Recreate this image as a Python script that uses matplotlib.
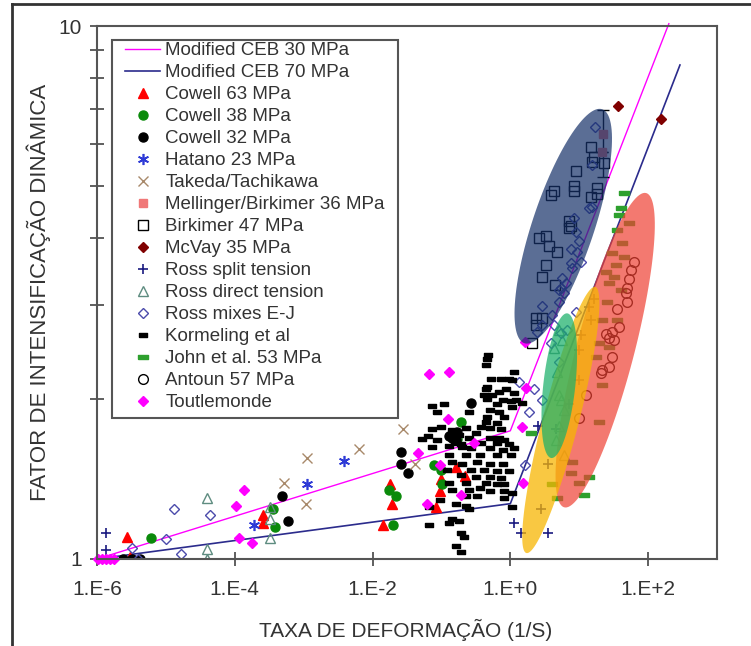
import matplotlib
matplotlib.use("Agg")
import matplotlib.pyplot as plt
import numpy as np
from matplotlib.lines import Line2D
from matplotlib.patches import Rectangle
from matplotlib.ticker import NullLocator, FixedLocator, NullFormatter

plt.rcParams['font.family'] = ['Liberation Sans', 'DejaVu Sans']

# --- data (strain rate 1/s, dynamic increase factor) ---
ceb30_rate = [1e-6, 1.0, 200]
ceb30_dif = [1.0, 1.74, 10.1]
ceb70_rate = [1e-6, 1.0, 290]
ceb70_dif = [1.0, 1.27, 8.45]

cowell63_rate = [2.7e-6, 3.0e-6, 2.55e-4, 2.55e-4, 1.4e-2, 1.82e-2, 1.9e-2, 0.16, 0.1, 0.22, 0.094, 0.082]
cowell63_dif = [1.10, 1.01, 1.21, 1.17, 1.16, 1.38, 1.27, 1.49, 1.41, 1.43, 1.34, 1.25]

cowell38_rate = [6.1e-6, 3.8e-4, 3.55e-4, 1.76e-2, 2.2e-2, 1.95e-2, 0.195, 7.7e-2, 0.10, 0.103, 0.17]
cowell38_dif = [1.095, 1.15, 1.24, 1.35, 1.31, 1.16, 1.81, 1.50, 1.47, 1.38, 1.68]

cowell32_rate = [2.4e-6, 3.2e-6, 4.2e-6, 4.8e-4, 5.9e-4, 2.55e-2, 2.55e-2, 3.3e-2, 0.27, 0.144, 0.17, 0.16, 0.13]
cowell32_dif = [1.0, 1.0, 1.0, 1.31, 1.18, 1.59, 1.51, 1.45, 1.96, 1.69, 1.73, 1.67, 1.70]

hatano_rate = [1.9e-4, 1.1e-3, 3.9e-3]
hatano_dif = [1.16, 1.38, 1.53]

takeda_rate = [5.1e-4, 1.1e-3, 1.07e-3, 6.3e-3, 2.8e-2, 4.1e-2]
takeda_dif = [1.39, 1.55, 1.27, 1.61, 1.75, 1.51]

mellinger_rate = [22.3, 21.5]
mellinger_dif = [6.27, 5.80]
mellinger_err_low = [1.07, 0.0]
mellinger_err_high = [0.68, 0.0]

birkimer_rate = [15.0, 16.5, 15.4, 23.0, 9.05, 8.47, 8.47, 4.34, 3.93, 18.2, 14.9, 18.2, 7.16,
                 7.66, 7.16, 2.63, 3.33, 3.67, 4.8, 3.33, 2.91, 4.5, 2.38, 2.91, 2.38, 2.08]
birkimer_dif = [5.93, 5.68, 5.56, 5.53, 5.34, 5.02, 4.90, 4.90, 4.81, 4.97, 4.78, 4.83, 4.30,
                4.22, 4.17, 4.0, 4.04, 3.86, 3.77, 3.56, 3.38, 3.26, 2.83, 2.83, 2.75, 2.54]

mcvay_rate = [36.7, 154]
mcvay_dif = [7.08, 6.69]

ross_split_rate = [1.35e-6, 1.35e-6, 1.14, 1.44, 3.56, 2.5, 2.8, 3.56, 10, 14, 14.9, 16.5, 10.7, 10, 4.6, 7.2]
ross_split_dif = [1.12, 1.04, 1.17, 1.12, 1.12, 1.78, 1.24, 1.51, 2.17, 2.97, 2.81, 3.08, 2.63, 2.47, 1.75, 1.95]

ross_direct_rate = [3.9e-5, 3.9e-5, 3.9e-5, 3.2e-4, 3.2e-4, 3.2e-4,
                    5.1, 5.7, 4.3, 4.8, 5.5, 6.1, 5.1, 4.6, 6.1, 5.1]
ross_direct_dif = [1.30, 1.044, 1.0, 1.25, 1.19, 1.095,
                   2.69, 2.58, 2.49, 2.24, 1.99, 1.90, 1.78, 1.67, 1.57, 2.03]

ross_mix_rate = [3.2e-6, 3.9e-6, 1.0e-5, 1.3e-5, 1.65e-5, 4.3e-5, 1.35, 2.23, 2.9, 1.88, 1.65,
                 17.1, 15.4, 15.4, 8.47, 9.05, 10, 7.66, 9.36, 10.7, 7.66, 7.92, 5.67, 6.48, 5.49,
                 6.06, 5.13, 2.91, 4.06, 9.05, 2.91, 2.46, 4.34, 3.93, 6.7, 5.49, 14, 5.13, 5.13]
ross_mix_dif = [1.05, 1.0, 1.09, 1.24, 1.02, 1.21, 2.15, 2.08, 1.99, 1.89, 1.50,
                6.47, 5.49, 4.58, 4.36, 4.11, 3.95, 3.81, 3.77, 3.61, 3.59, 3.51, 3.36, 3.29, 3.22,
                3.16, 3.03, 2.98, 2.87, 2.91, 2.75, 2.67, 2.75, 2.54, 2.69, 2.65, 4.56, 3.19, 2.34]

kormeling_rate = [0.48, 0.46, 0.45, 0.74, 0.97, 0.53, 0.46, 0.45, 0.69, 0.87, 0.55, 0.42, 0.46, 0.77,
                  1.03, 0.63, 0.074, 0.11, 0.085, 0.255, 0.50, 0.69, 0.46, 0.82, 0.45, 0.63, 0.10,
                  0.074, 0.38, 0.50, 0.23, 0.74, 0.063, 0.053, 0.085, 0.255, 0.32, 0.69, 0.82, 0.50,
                  0.38, 0.63, 0.97, 0.074, 0.13, 0.20, 0.27, 0.50, 0.77, 0.13, 0.23, 0.36, 0.65, 1.03,
                  0.144, 0.20, 0.33, 0.50, 0.77, 0.12, 0.27, 0.42, 0.63, 0.97, 0.195, 0.32, 0.50, 0.74,
                  0.13, 0.23, 0.45, 0.63, 0.82, 0.144, 0.255, 0.36, 0.50, 0.82, 0.23, 0.33, 0.82,
                  0.094, 0.165, 0.23, 0.067, 0.255, 0.14, 0.18, 0.13, 0.067, 0.195, 0.215, 0.165,
                  0.19, 1.14, 1.07, 1.14, 1.22, 1.07, 1.49, 1.14, 1.07, 1.07, 0.14, 0.18, 0.155, 0.195]
kormeling_dif = [2.41, 2.37, 2.31, 2.18, 2.18, 2.18, 2.10, 2.08, 2.06, 2.08, 2.03, 2.03, 2.0, 1.99,
                 1.98, 1.95, 1.94, 1.95, 1.89, 1.89, 1.90, 1.89, 1.85, 1.85, 1.81, 1.80, 1.77,
                 1.75, 1.77, 1.76, 1.76, 1.75, 1.70, 1.68, 1.67, 1.69, 1.72, 1.69, 1.67, 1.69,
                 1.65, 1.65, 1.64, 1.62, 1.63, 1.62, 1.615, 1.615, 1.60, 1.57, 1.57, 1.57, 1.57, 1.57,
                 1.52, 1.51, 1.52, 1.51, 1.51, 1.47, 1.47, 1.47, 1.46, 1.46, 1.44, 1.425, 1.425, 1.42,
                 1.39, 1.39, 1.39, 1.38, 1.38, 1.35, 1.35, 1.36, 1.34, 1.34, 1.31, 1.31, 1.30,
                 1.29, 1.27, 1.26, 1.25, 1.24, 1.19, 1.18, 1.17, 1.16, 1.12, 1.10, 1.06,
                 1.03, 2.24, 2.17, 2.05, 1.99, 1.93, 1.96, 1.615, 1.33, 1.25, 1.745, 1.71, 1.65, 1.64]

john_rate = [44.9, 40.6, 38.0, 35.6, 53.1, 42.0, 30.1, 44.9, 34.4, 24.6, 32.1, 27.2, 40.6, 25.5,
             21.5, 35.6, 19.5, 27.2, 17.6, 21.5, 19.5, 7.9, 14.0, 10, 4.8, 11.8, 2.0, 4.06, 7.66]
john_dif = [4.86, 4.55, 4.42, 4.14, 4.27, 3.92, 3.75, 3.68, 3.56, 3.45, 3.38, 3.30, 3.19, 3.03,
            2.81, 2.81, 2.54, 2.50, 2.39, 2.12, 1.81, 1.52, 1.425, 1.39, 1.30, 1.32, 1.72, 1.38, 1.45]

antoun_rate = [62.7, 56.7, 53.1, 49.7, 48.0, 49.7, 35.6, 38.0, 30.1, 24.6, 32.1, 27.2, 30.1, 27.2,
               21.5, 20.8, 12.6, 10]
antoun_dif = [3.61, 3.48, 3.35, 3.23, 3.15, 3.03, 2.94, 2.73, 2.67, 2.645, 2.58, 2.60, 2.39, 2.29,
              2.26, 2.23, 2.03, 1.84]

toutlemonde_rate = [1.03e-6, 1.18e-6, 1.35e-6, 1.54e-6, 1.76e-6, 1.03e-4, 1.35e-4, 1.14e-4, 1.76e-4,
                    6.5e-2, 0.13, 0.126, 4.5e-2, 0.094, 0.30, 0.19, 6.1e-2, 1.71, 1.49, 1.54, 1.65]
toutlemonde_dif = [1.0, 1.0, 1.0, 1.0, 1.0, 1.26, 1.35, 1.095, 1.07,
                   2.22, 2.24, 1.83, 1.58, 1.50, 1.65, 1.32, 1.27, 2.09, 1.77, 1.39, 2.55]

x_ticks = [1e-6, 1e-4, 1e-2, 1, 1e2]
x_tick_labels = ['1.E-6', '1.E-4', '1.E-2', '1.E+0', '1.E+2']

dash = [(-1, -0.45), (1, -0.45), (1, 0.45), (-1, 0.45), (-1, -0.45)]

fig = plt.figure(figsize=(7.51, 6.46), dpi=100)
ax = fig.add_axes([97 / 751, 1 - 559 / 646, 620 / 751, 533 / 646])
ax.set_xscale('log')
ax.set_yscale('log')
ax.set_xlim(1e-6, 1e3)
ax.set_ylim(1, 10)

handles = []
# CEB curves
handles += ax.plot(ceb30_rate, ceb30_dif, color='#ff00ff', lw=1.0, label='Modified CEB 30 MPa', clip_on=False)
handles += ax.plot(ceb70_rate, ceb70_dif, color='#2b2b8c', lw=1.2, label='Modified CEB 70 MPa')

handles += ax.plot(cowell63_rate, cowell63_dif, ls='none', marker='^', ms=7, color='#ff0000',
                   label='Cowell 63 MPa')
handles += ax.plot(cowell38_rate, cowell38_dif, ls='none', marker='o', ms=6.5, color='#0a8a0a',
                   label='Cowell 38 MPa')
handles += ax.plot(cowell32_rate, cowell32_dif, ls='none', marker='o', ms=6.5, color='black',
                   label='Cowell 32 MPa')
handles += ax.plot(hatano_rate, hatano_dif, ls='none', marker=(6, 2, 0), ms=8, mew=1.2, color='#2e3ad6',
                   label='Hatano 23 MPa')
handles += ax.plot(takeda_rate, takeda_dif, ls='none', marker='x', ms=6.5, mew=1.0, color='#a8896a',
                   label='Takeda/Tachikawa')
ax.errorbar(mellinger_rate, mellinger_dif, yerr=[mellinger_err_low, mellinger_err_high], fmt='s', ms=6,
            color='#f07878', ecolor='black', elinewidth=1, capsize=4)
handles.append(Line2D([], [], ls='none', marker='s', ms=6, color='#f07878', label='Mellinger/Birkimer 36 MPa'))
handles += ax.plot(birkimer_rate, birkimer_dif, ls='none', marker='s', ms=6.5, mfc='none', mec='black',
                   mew=1.0, label='Birkimer 47 MPa')
handles += ax.plot(mcvay_rate, mcvay_dif, ls='none', marker='D', ms=5, color='#800000', label='McVay 35 MPa')
handles += ax.plot(ross_split_rate, ross_split_dif, ls='none', marker='+', ms=7, mew=1.2, color='#1a1a80',
                   label='Ross split tension')
handles += ax.plot(ross_direct_rate, ross_direct_dif, ls='none', marker='^', ms=7, mfc='none', mec='#5e8c80',
                   mew=1.0, label='Ross direct tension')
handles += ax.plot(ross_mix_rate, ross_mix_dif, ls='none', marker='D', ms=5.5, mfc='none', mec='#4b4bab',
                   mew=1.0, label='Ross mixes E-J')
handles += ax.plot(kormeling_rate, kormeling_dif, ls='none', marker=dash, ms=5.5, color='black',
                   label='Kormeling et al')
handles += ax.plot(john_rate, john_dif, ls='none', marker=dash, ms=7, color='#2ea02e',
                   label='John et al. 53 MPa')
handles += ax.plot(antoun_rate, antoun_dif, ls='none', marker='o', ms=7, mfc='none', mec='black', mew=1.0,
                   label='Antoun 57 MPa')
handles += ax.plot(toutlemonde_rate, toutlemonde_dif, ls='none', marker='D', ms=5.5, color='#ff00ff',
                   label='Toutlemonde', clip_on=False)

# highlighted groups drawn as translucent ellipses over the points
ellipses = [
    ((93.6, 4.86), (6.06, 1.25), 29, '#ef4133', 0.7),
    ((17.1, 3.24), (1.71, 1.026), 18, '#f7b603', 0.75),
    ((6.7, 2.89), (3.93, 1.547), 16, '#1bb06a', 0.72),
    ((21.5, 6.98), (1.6, 2.54), 31, '#153069', 0.7),
]
for top, bottom, half_w, col, alpha in ellipses:
    p1 = ax.transData.transform(top)
    p2 = ax.transData.transform(bottom)
    c = (p1 + p2) / 2
    d = p1 - p2
    a = np.hypot(d[0], d[1]) / 2
    ang = np.arctan2(d[1], d[0])
    t = np.linspace(0, 2 * np.pi, 120)
    xs = c[0] + a * np.cos(t) * np.cos(ang) - half_w * np.sin(t) * np.sin(ang)
    ys = c[1] + a * np.cos(t) * np.sin(ang) + half_w * np.sin(t) * np.cos(ang)
    pts = ax.transData.inverted().transform(np.column_stack([xs, ys]))
    ax.fill(pts[:, 0], pts[:, 1], color=col, alpha=alpha, lw=0, zorder=4)

# axes styling
ax.xaxis.set_major_locator(FixedLocator(x_ticks))
ax.set_xticklabels(x_tick_labels)
ax.xaxis.set_minor_locator(NullLocator())
ax.yaxis.set_major_locator(FixedLocator([1, 10]))
ax.set_yticklabels(['1', '10'])
ax.yaxis.set_minor_locator(FixedLocator([2, 3, 4, 5, 6, 7, 8, 9]))
ax.yaxis.set_minor_formatter(NullFormatter())
ax.tick_params(which='both', direction='inout', length=10, width=1.2, color='#444444',
               labelsize=15, labelcolor='#333333')
ax.tick_params(axis='x', pad=10)
ax.tick_params(axis='y', pad=6)
for sp in ax.spines.values():
    sp.set_color('#555555')
    sp.set_linewidth(1.5)

ax.set_xlabel('TAXA DE DEFORMAÇÃO (1/S)', fontsize=15, color='#333333')
ax.set_ylabel('FATOR DE INTENSIFICAÇÃO DINÂMICA', fontsize=16, color='#333333')
ax.xaxis.set_label_coords(0.497, -0.112)
ax.yaxis.set_label_coords(-0.074, 0.5)

# legend: frame drawn separately so it can be padded like the original
ax.add_patch(Rectangle((112 / 751, 1 - 418 / 646), 286 / 751, 378 / 646, transform=fig.transFigure,
                       facecolor='white', edgecolor='#555555', lw=1.5, zorder=4.9, clip_on=False))
leg = ax.legend(handles=handles, loc='upper left', bbox_to_anchor=(125 / 751, 1 - 42 / 646),
                bbox_transform=fig.transFigure, borderaxespad=0, fontsize=13.5, labelspacing=0.26,
                handlelength=1.87, handletextpad=0.27, borderpad=0, frameon=False, numpoints=1)
for txt in leg.get_texts():
    txt.set_color('#333333')

# outer frame of the original picture
fig.add_artist(Line2D([12 / 751, 12 / 751], [0, 1 - 4 / 646], color='#333333', lw=2))
fig.add_artist(Line2D([12 / 751, 1], [1 - 4 / 646, 1 - 4 / 646], color='#333333', lw=2))

fig.savefig('out.png', dpi=100)
